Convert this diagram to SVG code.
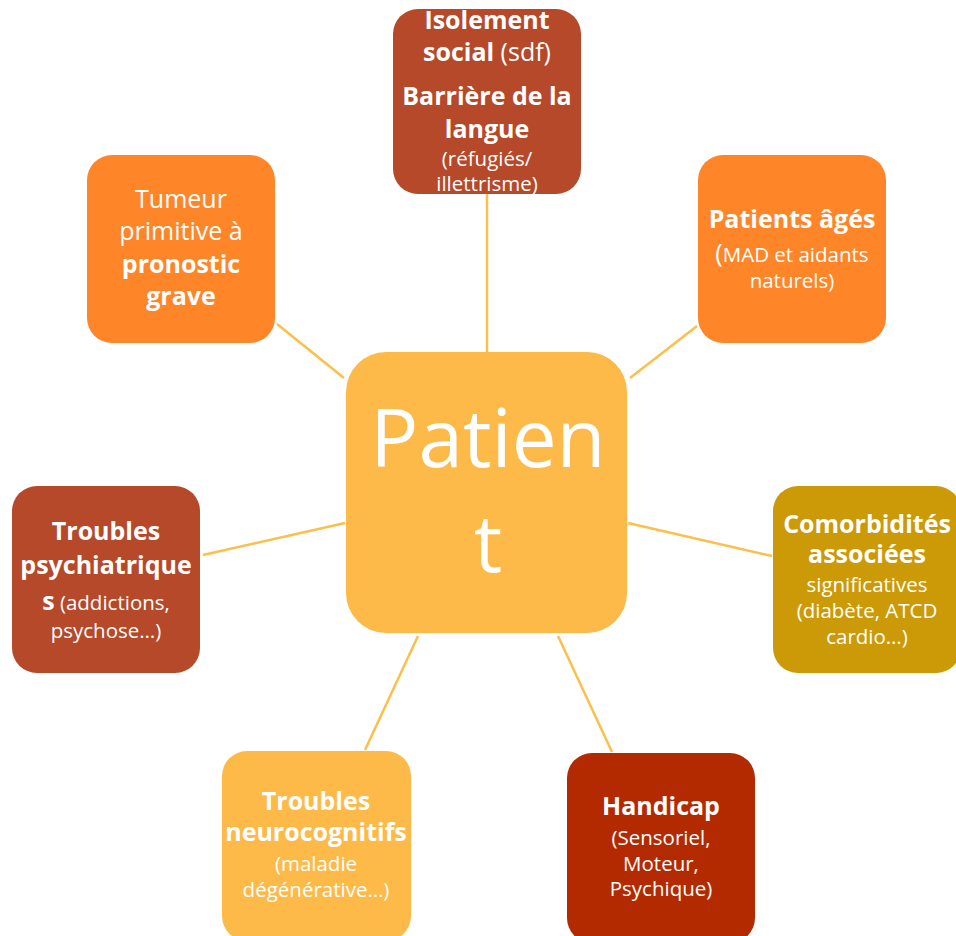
<svg xmlns="http://www.w3.org/2000/svg" width="956" height="936" viewBox="0 0 956 936">
<style>
text{font-family:"Open Sans","Noto Sans","DejaVu Sans",sans-serif;fill:#fff;text-anchor:middle}
.b{font-weight:700;font-size:25px}
.r{font-weight:400;font-size:25px}
.s{font-weight:400;font-size:20.5px}
.big{font-size:80px;font-weight:400}
.conn{stroke:#FBBF4B;stroke-width:2.5;fill:none}
</style>
<rect width="956" height="936" fill="#fff"/>
<g id="connectors">
<line class="conn" x1="487" y1="194" x2="487" y2="352"/>
<line class="conn" x1="277" y1="324" x2="344" y2="378"/>
<line class="conn" x1="697" y1="326" x2="630" y2="378"/>
<line class="conn" x1="203" y1="555" x2="345" y2="523"/>
<line class="conn" x1="628" y1="523" x2="772" y2="556"/>
<line class="conn" x1="418" y1="636" x2="365" y2="750"/>
<line class="conn" x1="558" y1="636" x2="612" y2="752"/>
</g>
<g id="patient">
<rect x="346" y="352" width="281" height="281" rx="40" fill="#FDBA48"/>
<text class="big" x="488" y="467">Patien</text>
<text class="big" x="488" y="572">t</text>
</g>
<g id="isolement">
<rect x="393" y="9" width="188" height="185" rx="25" fill="#B5492A"/>
<text class="b" x="487" y="29">Isolement</text>
<text x="487" y="61"><tspan class="b">social</tspan><tspan class="r"> (sdf)</tspan></text>
<text class="b" x="487" y="105">Barrière de la</text>
<text class="b" x="487" y="138">langue</text>
<text class="s" x="487" y="166">(réfugiés/</text>
<text class="s" x="487" y="191">illettrisme)</text>
</g>
<g id="tumeur">
<rect x="87" y="155" width="188" height="188" rx="25" fill="#FE8628"/>
<text class="r" x="181" y="208">Tumeur</text>
<text class="r" x="181" y="240">primitive à</text>
<text class="b" x="181" y="273">pronostic</text>
<text class="b" x="181" y="305">grave</text>
</g>
<g id="ages">
<rect x="698" y="155" width="188" height="188" rx="25" fill="#FE8628"/>
<text class="b" x="792" y="228">Patients âgés</text>
<text x="792" y="262"><tspan class="r">(</tspan><tspan class="s">MAD et aidants</tspan></text>
<text class="s" x="792" y="288">naturels)</text>
</g>
<g id="psychiatriques">
<rect x="12" y="486" width="188" height="187" rx="25" fill="#B5492A"/>
<text class="b" x="106" y="540">Troubles</text>
<text class="b" x="106" y="574">psychiatrique</text>
<text x="106" y="610"><tspan class="b">s</tspan><tspan class="s"> (addictions,</tspan></text>
<text class="s" x="106" y="638">psychose…)</text>
</g>
<g id="comorbidites">
<rect x="773" y="486" width="188" height="187" rx="25" fill="#CC9A06"/>
<text class="b" x="867" y="533">Comorbidités</text>
<text class="b" x="867" y="563">associées</text>
<text class="s" x="867" y="592">significatives</text>
<text class="s" x="867" y="618">(diabète, ATCD</text>
<text class="s" x="867" y="644">cardio…)</text>
</g>
<g id="neurocognitifs">
<rect x="222" y="751" width="189" height="190" rx="25" fill="#FDBA48"/>
<text class="b" x="316" y="810">Troubles</text>
<text class="b" x="316" y="841">neurocognitifs</text>
<text class="s" x="316" y="871">(maladie</text>
<text class="s" x="316" y="897">dégénérative…)</text>
</g>
<g id="handicap">
<rect x="567" y="753" width="188" height="190" rx="25" fill="#B32A00"/>
<text class="b" x="661" y="815">Handicap</text>
<text class="s" x="661" y="845">(Sensoriel,</text>
<text class="s" x="661" y="871">Moteur,</text>
<text class="s" x="661" y="896">Psychique)</text>
</g>
</svg>
